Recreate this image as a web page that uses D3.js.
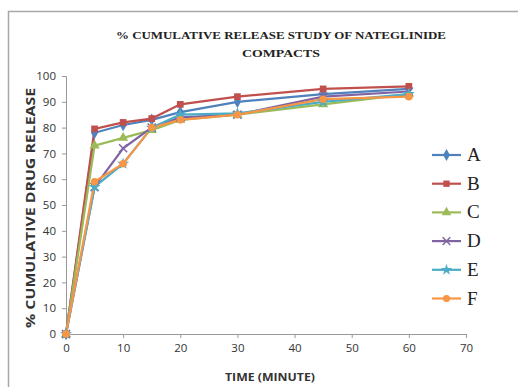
<!DOCTYPE html>
<meta charset="utf-8">
<style>
  body { margin: 0; background: #fff; }
  text { font-family: "Open Sans", "Liberation Sans", sans-serif; }
</style>
<body>
<div id="chart"></div>
<script src="https://d3js.org/d3.v7.min.js"></script>
<script>
  var times = [0, 5, 10, 15, 20, 30, 45, 60];
  var seriesNames = ["A", "B", "C", "D", "E", "F"];
  var valuesA = [0, 78, 81, 83, 86, 90, 93, 95];
  var valuesB = [0, 79.5, 82, 83.5, 89, 92, 95, 96];
  var valuesC = [0, 73, 76, 79, 83, 85, 89, 93];
  var valuesD = [0, 57, 72, 80, 84, 85, 92, 94];
  var valuesE = [0, 57, 66, 80, 85, 85.5, 90, 93];
  var valuesF = [0, 59, 66, 80, 83, 85, 91, 92];
  var colors = ["#4F81BD", "#C0504D", "#9BBB59", "#8064A2", "#4BACC6", "#F79646"];
  var xTicks = [0, 10, 20, 30, 40, 50, 60, 70];
  var yTicks = [0, 10, 20, 30, 40, 50, 60, 70, 80, 90, 100];

  var data = seriesNames.map(function (n, i) {
    return { name: n, color: colors[i], values: [valuesA, valuesB, valuesC, valuesD, valuesE, valuesF][i] };
  });

  var W = 518, H = 387;
  var svg = d3.select("#chart").append("svg").attr("width", W).attr("height", H);

  // outer chart frame
  svg.append("rect").attr("x", 8.5).attr("y", 11.5).attr("width", W).attr("height", H)
    .attr("fill", "#fff").attr("stroke", "#a8a8a8").attr("stroke-width", 1.5);

  var x = d3.scaleLinear().domain([0, 70]).range([66, 466]);
  var y = d3.scaleLinear().domain([0, 100]).range([334, 76]);

  // title
  var title = svg.append("text").attr("text-anchor", "middle")
    .style("font-family", "'Liberation Serif', serif").style("font-weight", "bold")
    .style("font-size", "11px").attr("fill", "#222");
  title.append("tspan").attr("x", 281).attr("y", 39)
    .attr("textLength", 330).attr("lengthAdjust", "spacingAndGlyphs")
    .text("% CUMULATIVE RELEASE STUDY OF NATEGLINIDE");
  title.append("tspan").attr("x", 281).attr("y", 57)
    .attr("textLength", 78).attr("lengthAdjust", "spacingAndGlyphs")
    .text("COMPACTS");

  var xAxis = svg.append("g").attr("transform", "translate(0," + y(0) + ")")
    .call(d3.axisBottom(x).tickValues(xTicks).tickSize(4).tickPadding(6));
  var yAxis = svg.append("g").attr("transform", "translate(" + x(0) + ",0)")
    .call(d3.axisLeft(y).tickValues(yTicks).tickSize(4).tickPadding(6));
  [xAxis, yAxis].forEach(function (g) {
    g.select(".domain").attr("stroke", "#999");
    g.selectAll(".tick line").attr("stroke", "#999");
    g.selectAll(".tick text").attr("fill", "#333").style("font-size", "11.5px")
      .style("font-family", "'Open Sans', sans-serif");
  });

  svg.append("text").attr("x", 270).attr("y", 381).attr("text-anchor", "middle")
    .style("font-size", "11px").style("font-weight", "bold").attr("fill", "#333")
    .attr("textLength", 90).attr("lengthAdjust", "spacingAndGlyphs")
    .text("TIME (MINUTE)");
  svg.append("text").attr("transform", "translate(35,208) rotate(-90)").attr("text-anchor", "middle")
    .style("font-size", "13px").style("font-weight", "bold").attr("fill", "#333")
    .attr("textLength", 240).attr("lengthAdjust", "spacingAndGlyphs")
    .text("% CUMULATIVE DRUG RELEASE");

  var line = d3.line().x(function (d, i) { return x(times[i]); }).y(function (d) { return y(d); });

  var symbols = [d3.symbolDiamond, d3.symbolSquare, d3.symbolTriangle, d3.symbolCross, d3.symbolStar, d3.symbolCircle];

  function marker(g, i, cx, cy, size) {
    if (i === 3) {
      g.append("path").attr("d", d3.symbol().type(d3.symbolTimes).size(size)())
        .attr("transform", "translate(" + cx + "," + cy + ")")
        .attr("fill", "none").attr("stroke", colors[i]).attr("stroke-width", 1.5);
    } else {
      g.append("path").attr("d", d3.symbol().type(symbols[i]).size(size)())
        .attr("transform", "translate(" + cx + "," + cy + ")")
        .attr("fill", colors[i]);
    }
  }

  var plot = svg.append("g");
  data.forEach(function (s, i) {
    plot.append("path").datum(s.values).attr("d", line)
      .attr("fill", "none").attr("stroke", s.color).attr("stroke-width", 2.2);
  });
  data.forEach(function (s, i) {
    s.values.forEach(function (v, j) {
      marker(plot, i, x(times[j]), y(v), 45);
    });
  });

  // legend
  var legend = svg.append("g");
  data.forEach(function (s, i) {
    var ly = 155 + i * 28.7;
    legend.append("line").attr("x1", 432).attr("x2", 461).attr("y1", ly).attr("y2", ly)
      .attr("stroke", s.color).attr("stroke-width", 2.2);
    marker(legend, i, 446.5, ly, 40);
    legend.append("text").attr("x", 467).attr("y", ly + 6)
      .style("font-family", "'Liberation Serif', serif").style("font-size", "19px")
      .attr("fill", "#222").text(s.name);
  });
</script>
</body>
